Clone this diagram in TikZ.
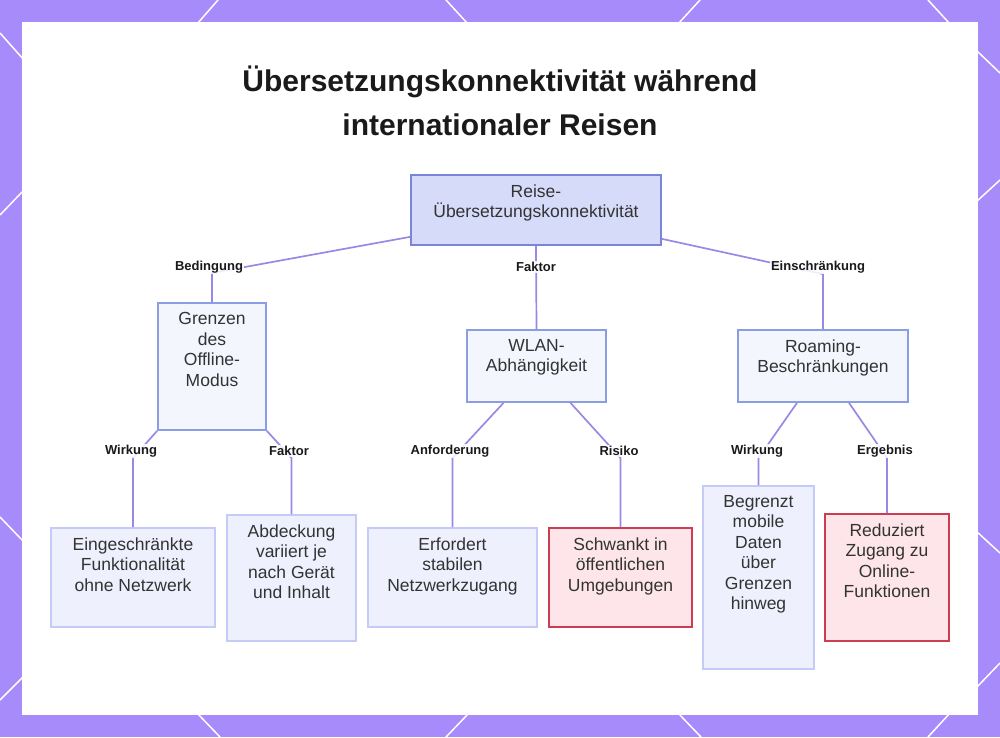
\documentclass[tikz,border=0pt]{standalone}
\usepackage{fontspec}
\setmainfont{Liberation Sans}
\usepackage{tikz}
\usetikzlibrary{calc}
\usepackage{xcolor}
\definecolor{framepurple}{HTML}{A78BFA}
\definecolor{linkpurple}{HTML}{9C88E4}
\definecolor{rootfill}{HTML}{D6DBFA}
\definecolor{rootdraw}{HTML}{7B84D6}
\definecolor{midfill}{HTML}{F4F6FE}
\definecolor{middraw}{HTML}{8B9DE3}
\definecolor{leaffill}{HTML}{EEF1FD}
\definecolor{leafdraw}{HTML}{C3CBF6}
\definecolor{riskfill}{HTML}{FDE5E9}
\definecolor{riskdraw}{HTML}{CC3D52}
\definecolor{textgray}{HTML}{333333}
\definecolor{titleblack}{HTML}{1A1A1A}

\tikzset{
  boxtext/.style={label={[anchor=north, align=center, inner sep=0pt, yshift=-10pt, text=textgray, font=\fontsize{17.5}{20.5}\selectfont]north:{#1}}},
  box/.style={line width=1.7pt, inner sep=0pt},
  rootbox/.style={box, draw=rootdraw, fill=rootfill},
  midbox/.style={box, draw=middraw, fill=midfill},
  leafbox/.style={box, draw=leafdraw, fill=leaffill},
  riskbox/.style={box, draw=riskdraw, fill=riskfill},
  conn/.style={draw=linkpurple, line width=1.7pt},
  elabel/.style={font=\fontsize{13}{15}\selectfont\bfseries, text=titleblack, fill=white, fill opacity=0.85, text opacity=1, inner sep=1pt},
  deco/.style={draw=white, line width=1.5pt},
}

\begin{document}
\begin{tikzpicture}[x=1pt, y=-1pt]
\useasboundingbox (0,0) rectangle (1000,737);
% frame
\fill[framepurple] (0,0) rectangle (1000,737);
\foreach \xa/\ya/\xb/\yb in {197/24/218/0, 446/0/468/24, 678/24/700/0, 928/0/950/24,
  197/713/220/737, 469/713/446/737, 678/713/701/737, 950/713/928/737,
  0/33/24/60, 0/215/24/190, 0/517/24/542, 0/700/24/676,
  976/50/1000/73, 976/202/1000/180, 976/531/1000/553, 976/688/1000/663}
  \draw[deco] (\xa,\ya) -- (\xb,\yb);
\fill[white] (22,22) rectangle (978,715);

% title
\node[font=\fontsize{30}{44}\selectfont\bfseries, text=titleblack, align=center] (title) at (500,101)
  {Übersetzungskonnektivität während\\internationaler Reisen};

% boxes
\node[rootbox, minimum width=250pt, minimum height=70pt, boxtext={Reise-\\Übersetzungskonnektivität}] (root) at (536,210) {};
\node[midbox, minimum width=108pt, minimum height=127pt, boxtext={Grenzen\\des\\Offline-\\Modus}] (grenzen) at (212,366.5) {};
\node[midbox, minimum width=139pt, minimum height=72pt, boxtext={WLAN-\\Abhängigkeit}] (wlan) at (536.5,366) {};
\node[midbox, minimum width=170pt, minimum height=72pt, boxtext={Roaming-\\Beschränkungen}] (roaming) at (823,366) {};
\node[leafbox, minimum width=164pt, minimum height=99pt, boxtext={Eingeschränkte\\Funktionalität\\ohne Netzwerk}] (eing) at (133,577.5) {};
\node[leafbox, minimum width=129pt, minimum height=126pt, boxtext={Abdeckung\\variiert je\\nach Gerät\\und Inhalt}] (abdeck) at (291.5,578) {};
\node[leafbox, minimum width=169pt, minimum height=99pt, boxtext={Erfordert\\stabilen\\Netzwerkzugang}] (erford) at (452.5,577.5) {};
\node[riskbox, minimum width=143pt, minimum height=99pt, boxtext={Schwankt in\\öffentlichen\\Umgebungen}] (schwankt) at (620.5,577.5) {};
\node[leafbox, minimum width=111pt, minimum height=183pt, boxtext={Begrenzt\\mobile\\Daten\\über\\Grenzen\\hinweg}] (begrenzt) at (758.5,577.5) {};
\node[riskbox, minimum width=124pt, minimum height=127pt, boxtext={Reduziert\\Zugang zu\\Online-\\Funktionen}] (reduz) at (887,577.5) {};

% connectors
\draw[conn] ([yshift=9pt]root.south west) -- (212,273) -- (grenzen.north);
\draw[conn] (root.south) -- (wlan.north);
\draw[conn] ([yshift=7pt]root.south east) -- (823,274) -- (roaming.north);
\draw[conn] (grenzen.south west) -- (133,458) -- (eing.north);
\draw[conn] (grenzen.south east) -- (291.5,458) -- (abdeck.north);
\draw[conn] ([xshift=-33pt]wlan.south) -- (452.5,458) -- (erford.north);
\draw[conn] ([xshift=34pt]wlan.south) -- (620.5,458) -- (schwankt.north);
\draw[conn] ([xshift=-26pt]roaming.south) -- (758.5,458) -- (begrenzt.north);
\draw[conn] ([xshift=26pt]roaming.south) -- (887,458) -- (reduz.north);

% connector labels
\node[elabel] (lbed) at (209,267) {Bedingung};
\node[elabel] (lfak) at (536,267) {Faktor};
\node[elabel] (lein) at (818,267) {Einschränkung};
\node[elabel] (lwir) at (131,451) {Wirkung};
\node[elabel] (lfak2) at (289,451) {Faktor};
\node[elabel] (lanf) at (450,451) {Anforderung};
\node[elabel] (lris) at (619,451) {Risiko};
\node[elabel] (lwir2) at (757,451) {Wirkung};
\node[elabel] (lerg) at (885,451) {Ergebnis};
\end{tikzpicture}
\end{document}
